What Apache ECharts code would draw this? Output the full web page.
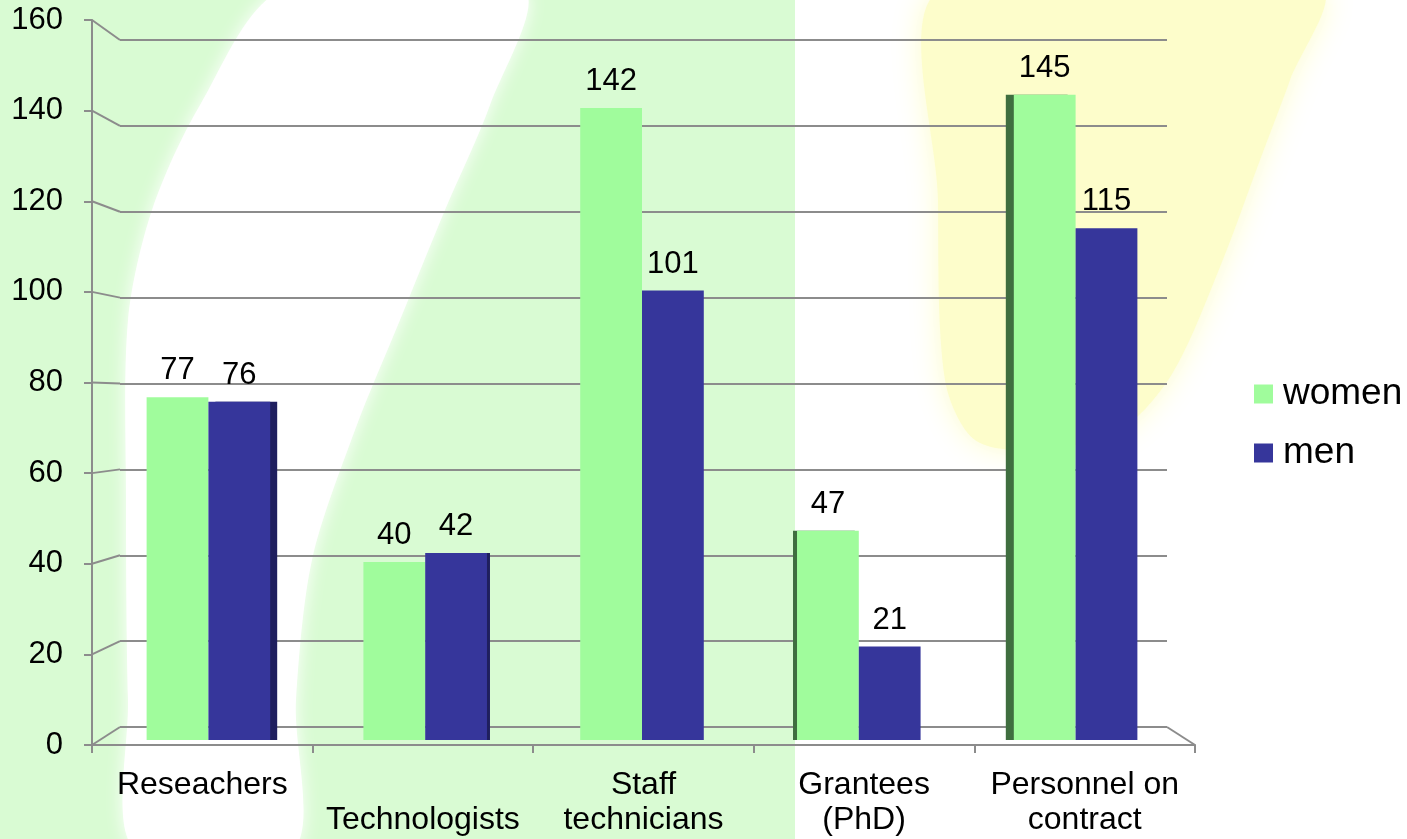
<!DOCTYPE html>
<html><head><meta charset="utf-8">
<script src="https://cdn.jsdelivr.net/npm/echarts@6/dist/echarts.min.js"></script>
<style>html,body{margin:0;padding:0;background:#fff}#c{width:1407px;height:839px}</style>
</head><body><div id="c"></div>
<script>
// ---- data ----
const categories = ['Reseachers', 'Technologists', 'Staff\ntechnicians', 'Grantees\n(PhD)', 'Personnel on\ncontract'];
const women = [77, 40, 142, 47, 145];
const men = [76, 42, 101, 21, 115];
const yTicks = [0, 20, 40, 60, 80, 100, 120, 140, 160];
const seriesNames = ['women', 'men'];

// ---- layout / style ----
const W = 1407, H = 839;
const FRONT = {left: 92, right: 1195, top: 20, bottom: 745};
const BACK = {left: 120, right: 1167, top: 40, bottom: 727};
const BARS = {left: 100, right: 1184, top: 28, bottom: 740};
const GRAY = '#8c8c8c';
const FONT = 'Liberation Sans, Arial, sans-serif';
const COLORS = {women: '#a0fc9c', men: '#36369b'};
const SIDE = {women: {3: -4, 4: -8}, men: {0: 7, 1: 3}};
const SIDE_COLOR = {women: '#3f6e3f', men: '#1f1f5e'};

function gridOf(r) {
  return {left: r.left, right: W - r.right, top: r.top, bottom: H - r.bottom, containLabel: false};
}

function makeData(name, vals) {
  return vals.map((v, i) => {
    const off = SIDE[name][i];
    return off ? {value: v, itemStyle: {shadowOffsetX: off, shadowBlur: 0, shadowColor: SIDE_COLOR[name]}} : v;
  });
}

const bg = [
  {type: 'rect', z: -100, shape: {x: 0, y: 0, width: W, height: H}, style: {fill: '#ffffff'}},
  {type: 'rect', z: -99, shape: {x: 0, y: 0, width: 795, height: H}, style: {fill: '#d9fbd3'}},
  {type: 'polygon', z: -97, shape: {smooth: 0.3, points: [
      [283, -10], [523, -10], [490, 105], [445, 210], [400, 320], [355, 430], [312, 560], [296, 700], [293, 850],
      [135, 850], [128, 700], [126, 500], [128, 320], [152, 210], [200, 105]]},
   style: {fill: '#ffffff', shadowBlur: 18, shadowColor: '#ffffff'}},
  {type: 'polygon', z: -96, shape: {smooth: 0.3, points: [
      [940, -10], [1320, -10], [1290, 80], [1260, 160], [1220, 267], [1172, 374], [1120, 430], [1040, 450], [975, 440], [945, 380], [938, 200]]},
   style: {fill: '#fdfdcb', shadowBlur: 30, shadowColor: '#fdfdcb'}}
];

const chart = echarts.init(document.getElementById('c'));
const option = {
  animation: false,
  textStyle: {fontFamily: FONT},
  grid: [gridOf(FRONT), gridOf(BACK), gridOf(BARS)],
  legend: {
    orient: 'vertical', left: 1254, top: 374, padding: 0,
    itemWidth: 19, itemHeight: 19, itemGap: 19, icon: 'rect',
    data: seriesNames,
    textStyle: {fontSize: 37, color: '#000', fontFamily: FONT, lineHeight: 40, padding: [0, 0, 0, 5]}
  },
  xAxis: [
    {type: 'category', gridIndex: 0, data: categories, boundaryGap: true,
     axisLine: {show: true, lineStyle: {color: GRAY, width: 2}},
     axisTick: {show: true, length: 8, lineStyle: {color: GRAY, width: 2}},
     axisLabel: {interval: 0, fontSize: 32, color: '#000', lineHeight: 35, margin: 23, fontFamily: FONT,
                 formatter: (v, i) => i === 1 ? '\n' + v : v},
     splitLine: {show: false}},
    {type: 'category', gridIndex: 1, data: categories, show: false},
    {type: 'category', gridIndex: 2, data: categories, show: false}
  ],
  yAxis: [
    {type: 'value', gridIndex: 0, min: 0, max: 160, interval: 20,
     axisLine: {show: true, lineStyle: {color: GRAY, width: 2}},
     axisTick: {show: true, length: 8, lineStyle: {color: GRAY, width: 2}},
     axisLabel: {fontSize: 31, color: '#000', margin: 29, fontFamily: FONT},
     splitLine: {show: false}},
    {type: 'value', gridIndex: 1, min: 0, max: 160, interval: 20,
     axisLine: {show: false}, axisTick: {show: false}, axisLabel: {show: false},
     splitLine: {show: true, lineStyle: {color: GRAY, width: 2}}},
    {type: 'value', gridIndex: 2, min: 0, max: 160, interval: 20, show: false, splitLine: {show: false}}
  ],
  series: [
    {name: seriesNames[0], type: 'bar', xAxisIndex: 2, yAxisIndex: 2, data: makeData('women', women),
     barGap: '0%', barCategoryGap: '43%', itemStyle: {color: COLORS.women},
     label: {show: true, position: 'top', distance: 11, fontSize: 31, color: '#000', fontFamily: FONT}},
    {name: seriesNames[1], type: 'bar', xAxisIndex: 2, yAxisIndex: 2, data: makeData('men', men),
     barGap: '0%', barCategoryGap: '43%', itemStyle: {color: COLORS.men},
     label: {show: true, position: 'top', distance: 11, fontSize: 31, color: '#000', fontFamily: FONT}}
  ],
  graphic: bg
};
chart.setOption(option);

// perspective connectors between the front axis and the back wall, from the axes' own scales
const conn = [];
yTicks.forEach(v => {
  const yf = chart.convertToPixel({yAxisIndex: 0}, v);
  const yb = chart.convertToPixel({yAxisIndex: 1}, v);
  conn.push({type: 'line', z: 5, shape: {x1: FRONT.left, y1: yf, x2: BACK.left, y2: yb}, style: {stroke: GRAY, lineWidth: 2}});
});
const yf0 = chart.convertToPixel({yAxisIndex: 0}, 0);
const yb0 = chart.convertToPixel({yAxisIndex: 1}, 0);
conn.push({type: 'line', z: 5, shape: {x1: BACK.right, y1: yb0, x2: FRONT.right, y2: yf0}, style: {stroke: GRAY, lineWidth: 2}});
chart.setOption({graphic: bg.concat(conn)});
</script>
</body></html>
